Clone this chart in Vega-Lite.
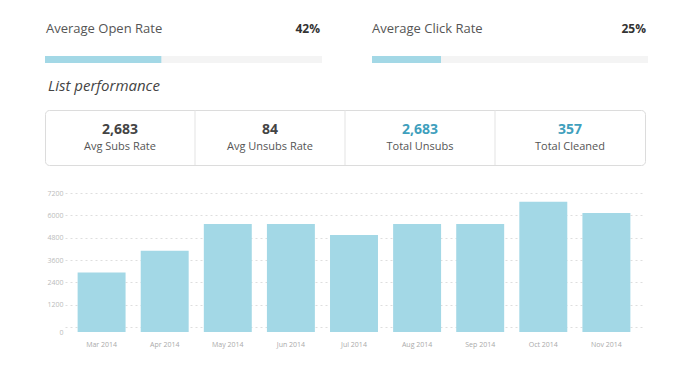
{
  "$schema": "https://vega.github.io/schema/vega-lite/v6.json",
  "background": "white",
  "padding": {"left": 44, "top": 22, "right": 10, "bottom": 6},
  "config": {
    "font": "Open Sans",
    "view": {"stroke": null}
  },
  "datasets": {
    "rates": [
      {"metric": "Average Open Rate", "rate": 0.42},
      {"metric": "Average Click Rate", "rate": 0.25}
    ],
    "kpis": [
      {"label": "Avg Subs Rate", "value": 2683, "kind": "avg"},
      {"label": "Avg Unsubs Rate", "value": 84, "kind": "avg"},
      {"label": "Total Unsubs", "value": 2683, "kind": "total"},
      {"label": "Total Cleaned", "value": 357, "kind": "total"}
    ],
    "monthly": [
      {"month": "Mar 2014", "subs": 2930},
      {"month": "Apr 2014", "subs": 4100},
      {"month": "May 2014", "subs": 5530},
      {"month": "Jun 2014", "subs": 5530},
      {"month": "Jul 2014", "subs": 4940},
      {"month": "Aug 2014", "subs": 5530},
      {"month": "Sep 2014", "subs": 5530},
      {"month": "Oct 2014", "subs": 6730},
      {"month": "Nov 2014", "subs": 6125}
    ]
  },
  "vconcat": [
    {
      "hconcat": [
        {
          "width": 277,
          "height": 7,
          "data": {"name": "rates"},
          "transform": [{"filter": "datum.metric == 'Average Open Rate'"}],
          "encoding": {
            "y": {"field": "metric", "type": "nominal", "scale": {"paddingInner": 0, "paddingOuter": 0}, "axis": null}
          },
          "layer": [
            {"mark": {"type": "bar", "color": "#f4f4f4"}, "encoding": {"x": {"datum": 0, "type": "quantitative", "scale": {"domain": [0, 1]}, "axis": null}, "x2": {"datum": 1}}},
            {"mark": {"type": "bar", "color": "#a3d8e6"}, "encoding": {"x": {"field": "rate", "type": "quantitative", "axis": null}}},
            {"mark": {"type": "text", "align": "left", "baseline": "middle", "dy": -31, "dx": 1, "fontSize": 13, "color": "#555"}, "encoding": {"x": {"datum": 0, "type": "quantitative"}, "text": {"field": "metric", "type": "nominal"}}},
            {"mark": {"type": "text", "align": "right", "baseline": "middle", "dy": -31, "dx": -2, "fontSize": 12, "fontWeight": "bold", "color": "#333"}, "encoding": {"x": {"datum": 1, "type": "quantitative"}, "text": {"field": "rate", "type": "quantitative", "format": ".0%"}}}
          ]
        },
        {
          "width": 276,
          "height": 7,
          "data": {"name": "rates"},
          "transform": [{"filter": "datum.metric == 'Average Click Rate'"}],
          "encoding": {
            "y": {"field": "metric", "type": "nominal", "scale": {"paddingInner": 0, "paddingOuter": 0}, "axis": null}
          },
          "layer": [
            {"mark": {"type": "bar", "color": "#f4f4f4"}, "encoding": {"x": {"datum": 0, "type": "quantitative", "scale": {"domain": [0, 1]}, "axis": null}, "x2": {"datum": 1}}},
            {"mark": {"type": "bar", "color": "#a3d8e6"}, "encoding": {"x": {"field": "rate", "type": "quantitative", "axis": null}}},
            {"mark": {"type": "text", "align": "left", "baseline": "middle", "dy": -31, "dx": 0, "fontSize": 13, "color": "#555"}, "encoding": {"x": {"datum": 0, "type": "quantitative"}, "text": {"field": "metric", "type": "nominal"}}},
            {"mark": {"type": "text", "align": "right", "baseline": "middle", "dy": -31, "dx": -2, "fontSize": 12, "fontWeight": "bold", "color": "#333"}, "encoding": {"x": {"datum": 1, "type": "quantitative"}, "text": {"field": "rate", "type": "quantitative", "format": ".0%"}}}
          ]
        }
      ],
      "spacing": 50
    },
    {
      "vconcat": [
        {
          "width": 600,
          "height": 55,
          "view": {"stroke": "#dcdcdc", "cornerRadius": 4, "strokeWidth": 1},
          "title": {"text": "List performance", "anchor": "start", "frame": "group", "font": "Open Sans", "fontSize": 15, "fontWeight": "normal", "fontStyle": "italic", "color": "#444", "offset": 16, "dx": 3},
          "data": {"name": "kpis"},
          "encoding": {
            "x": {"field": "label", "type": "nominal", "sort": null, "scale": {"domain": ["Avg Subs Rate", "Avg Unsubs Rate", "Total Unsubs", "Total Cleaned"], "paddingInner": 0, "paddingOuter": 0}, "axis": null}
          },
          "layer": [
            {
              "transform": [{"filter": "datum.label != 'Avg Subs Rate'"}],
              "mark": {"type": "rule", "color": "#e3e3e3"},
              "encoding": {"x": {"field": "label", "type": "nominal", "bandPosition": 0}}
            },
            {
              "mark": {"type": "text", "baseline": "middle", "dy": -8, "fontSize": 14, "fontWeight": "bold"},
              "encoding": {
                "text": {"field": "value", "type": "quantitative", "format": ","},
                "color": {"field": "kind", "type": "nominal", "scale": {"domain": ["avg", "total"], "range": ["#444444", "#3f9fbd"]}, "legend": null}
              }
            },
            {
              "mark": {"type": "text", "baseline": "middle", "dy": 9, "fontSize": 11, "color": "#555"},
              "encoding": {
                "text": {"field": "label", "type": "nominal"}
              }
            }
          ]
        },
        {
          "hconcat": [
            {
              "width": 1,
              "height": 1,
              "data": {"values": []},
              "mark": "point",
              "encoding": {}
            },
            {
              "width": 578,
              "height": 134,
              "data": {"name": "monthly"},
              "mark": {"type": "bar", "color": "#a3d8e6", "y2Offset": 5},
              "encoding": {
                "x": {
                  "field": "month", "type": "nominal", "sort": null,
                  "scale": {"paddingInner": 0.24, "paddingOuter": 0.2},
                  "axis": {"title": null, "labelAngle": 0, "labelFontSize": 7, "labelColor": "#aaa", "labelPadding": 13, "domain": false, "ticks": false, "grid": false}
                },
                "y": {
                  "field": "subs", "type": "quantitative", "stack": null,
                  "scale": {"domain": [0, 7200], "nice": false},
                  "axis": {"title": null, "values": [0, 1200, 2400, 3600, 4800, 6000, 7200], "format": "d", "labelFontSize": 7, "labelColor": "#bbb", "labelPadding": 2, "labelOffset": {"condition": {"test": "datum.value == 0", "value": 5}, "value": 0}, "domain": false, "ticks": false, "grid": true, "gridColor": "#dedede", "gridDash": [2, 3], "gridWidth": 1}
                },
                "y2": {"datum": 0}
              }
            }
          ],
          "spacing": 0
        }
      ],
      "spacing": 23
    }
  ],
  "spacing": 15
}
